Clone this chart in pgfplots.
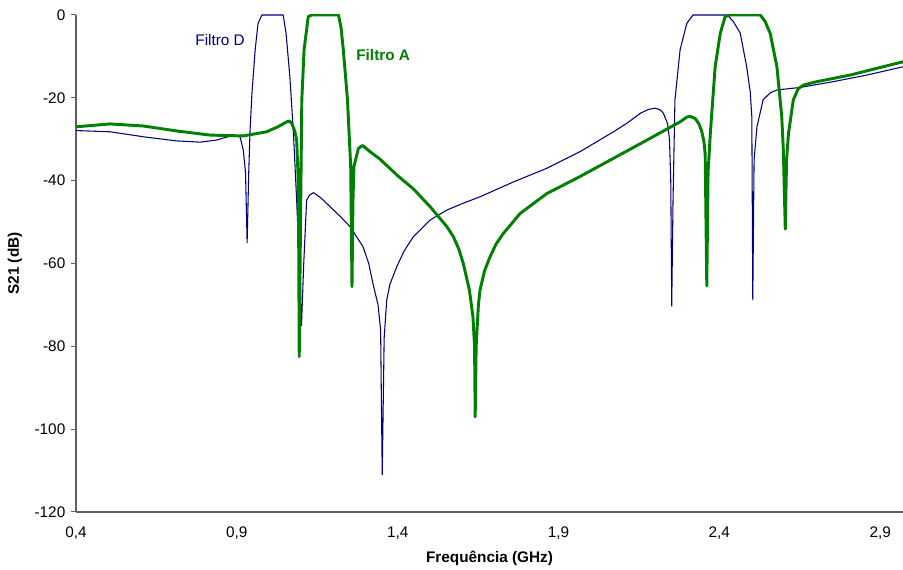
\documentclass[border=0pt]{standalone}
\usepackage{fontspec}
\setmainfont{Liberation Sans}
\usepackage{pgfplots}
\pgfplotsset{compat=1.18}

\definecolor{navyD}{RGB}{0,0,128}
\definecolor{greenA}{RGB}{0,128,0}
\definecolor{axgray}{RGB}{96,96,96}

\begin{document}
\begin{tikzpicture}[x=1pt,y=1pt]
\begin{axis}[
    at={(0,0)}, anchor=south west,
    scale only axis,
    width=620.25pt, height=372.75pt,
    xmin=0.4, xmax=2.971,
    ymin=-120, ymax=0,
    axis lines=left,
    axis line style={axgray, line width=0.9pt, -},
    xtick={0.4,0.9,1.4,1.9,2.4,2.9},
    ytick={-120,-100,-80,-60,-40,-20,0},
    x tick style={draw=none},
    y tick style={axgray, line width=0.75pt},
    tick align=outside,
    major tick length=3.5pt,
    x tick label style={/pgf/number format/fixed, /pgf/number format/fixed zerofill,
        /pgf/number format/precision=1, /pgf/number format/use comma, yshift=-4pt},
    /pgf/number format/assume math mode=true,
    tick label style={font=\fontsize{11.5}{13}\selectfont, black},
    y tick label style={xshift=-1pt},
    xlabel={\textbf{Frequência (GHz)}},
    ylabel={\textbf{S21 (dB)}},
    label style={font=\fontsize{11.5}{13}\selectfont},
    xlabel style={at={(axis description cs:0.5,-0.0926)}, anchor=center},
    ylabel style={at={(axis description cs:-0.0738,0.5)}, anchor=center},
    clip=true,
    line join=round,
]
% Filtro D
\addplot[navyD, line width=0.8pt, mark=none] coordinates {
(0.400,-27.9) (0.506,-28.2) (0.609,-29.4) (0.713,-30.4) (0.786,-30.7)
(0.837,-30.2) (0.889,-29.0) (0.910,-29.4) (0.920,-32.6) (0.927,-38.0)
(0.932,-55.0) (0.937,-38.0) (0.941,-28.0) (0.947,-18.9) (0.957,-8.4)
(0.966,-2.0) (0.978,0.0) (1.044,0.0) (1.053,-4.4) (1.065,-15.0)
(1.076,-28.6) (1.086,-44.7) (1.095,-62.0) (1.101,-75.0) (1.108,-60.0)
(1.117,-44.7) (1.126,-43.5) (1.138,-42.9) (1.159,-44.0) (1.190,-46.3)
(1.221,-48.6) (1.252,-51.1) (1.292,-55.9) (1.310,-60.0) (1.323,-64.8)
(1.339,-70.0) (1.347,-76.0) (1.352,-111.0) (1.358,-78.0) (1.366,-68.8)
(1.376,-65.0) (1.397,-60.8) (1.420,-57.0) (1.449,-53.5) (1.501,-49.5)
(1.553,-47.1) (1.605,-45.4) (1.656,-43.9) (1.760,-40.3) (1.864,-37.0)
(1.967,-33.0) (2.071,-28.2) (2.115,-26.0) (2.155,-23.7) (2.180,-22.8)
(2.201,-22.5) (2.216,-22.9) (2.226,-23.7) (2.239,-26.2) (2.245,-30.0)
(2.249,-40.0) (2.252,-70.3) (2.256,-45.0) (2.262,-20.5) (2.278,-8.4)
(2.299,-2.0) (2.318,0.0) (2.424,0.0) (2.443,-1.5) (2.465,-4.4)
(2.485,-12.5) (2.496,-18.5) (2.501,-24.6) (2.504,-68.8) (2.508,-35.0)
(2.517,-27.0) (2.536,-20.5) (2.558,-18.8) (2.579,-18.1) (2.651,-17.5)
(2.754,-16.1) (2.859,-14.5) (2.971,-12.5)
};
% Filtro A
\addplot[greenA, line width=2.2pt, mark=none] coordinates {
(0.400,-27.0) (0.506,-26.3) (0.609,-26.8) (0.713,-28.0) (0.817,-29.0)
(0.920,-29.2) (0.993,-28.2) (1.030,-26.9) (1.055,-25.8) (1.064,-25.6)
(1.071,-26.2) (1.080,-28.0) (1.086,-30.2) (1.090,-38.0) (1.092,-50.0)
(1.094,-82.5) (1.098,-50.0) (1.102,-20.5) (1.109,-8.4) (1.122,-0.4)
(1.133,0.0) (1.216,0.0) (1.224,-3.0) (1.231,-8.4) (1.244,-20.5)
(1.254,-36.6) (1.258,-65.6) (1.261,-45.0) (1.264,-36.6) (1.278,-32.2)
(1.291,-31.5) (1.314,-33.0) (1.345,-34.8) (1.400,-38.8) (1.449,-42.0)
(1.501,-46.3) (1.527,-48.7) (1.552,-51.0) (1.573,-53.5) (1.590,-56.5)
(1.604,-60.0) (1.623,-66.4) (1.634,-72.8) (1.639,-80.0) (1.641,-97.0)
(1.644,-80.0) (1.651,-70.0) (1.656,-66.4) (1.670,-61.8) (1.687,-58.4)
(1.706,-55.3) (1.729,-52.7) (1.781,-47.9) (1.864,-43.1) (1.967,-39.0)
(2.071,-34.6) (2.175,-30.2) (2.278,-25.8) (2.300,-24.6) (2.310,-24.5)
(2.325,-25.0) (2.336,-26.2) (2.345,-28.0) (2.352,-30.5) (2.356,-33.5)
(2.361,-65.4) (2.365,-38.0) (2.372,-28.6) (2.387,-12.5) (2.403,-4.4)
(2.418,-0.4) (2.434,0.0) (2.527,0.0) (2.542,-1.5) (2.558,-4.4)
(2.579,-12.5) (2.594,-24.5) (2.599,-32.6) (2.605,-51.7) (2.609,-35.0)
(2.615,-28.6) (2.630,-20.5) (2.645,-17.8) (2.662,-16.9) (2.703,-16.1)
(2.807,-14.5) (2.909,-12.5) (2.971,-11.3)
};
\node[navyD, font=\fontsize{11.5}{13}\selectfont] at (axis cs:0.848,-6.0) {Filtro D};
\node[greenA, font=\bfseries\fontsize{11.5}{13}\selectfont] at (axis cs:1.355,-9.7) {Filtro A};
\end{axis}
\pgfresetboundingbox
\path[use as bounding box] (-57pt,-43.5pt) rectangle (620.25pt,384pt);
\end{tikzpicture}
\end{document}
